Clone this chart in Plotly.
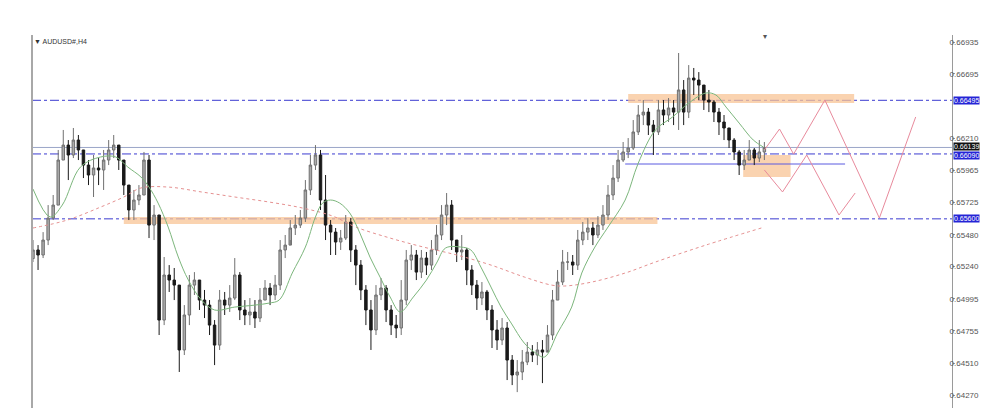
import plotly.graph_objects as go

# ---- candle data (H4 AUDUSD), index = bar number ----
close = [0.65365,0.65327,0.65440,0.65606,0.65704,0.66044,0.66157,0.66082,0.66195,0.66120,
         0.66006,0.65931,0.65984,0.65969,0.66044,0.66120,0.66157,0.66044,0.65855,0.65667,
         0.65742,0.65780,0.66044,0.65553,0.65629,0.64836,0.65176,0.65138,0.65100,0.64610,
         0.64874,0.65100,0.65138,0.64987,0.64949,0.64798,0.64647,0.64987,0.64949,0.65002,
         0.65176,0.64912,0.64874,0.64897,0.64851,0.64987,0.65078,0.65025,0.65100,0.65365,
         0.65402,0.65531,0.65553,0.65606,0.65818,0.66006,0.66082,0.65742,0.65553,0.65500,
         0.65425,0.65455,0.65576,0.65365,0.65251,0.65063,0.64912,0.64761,0.65025,0.65078,
         0.64912,0.64798,0.64776,0.64987,0.65289,0.65327,0.65198,0.65304,0.65251,0.65365,
         0.65478,0.65629,0.65704,0.65440,0.65350,0.65365,0.65214,0.65100,0.65002,0.65048,
         0.64912,0.64761,0.64685,0.64776,0.64534,0.64421,0.64444,0.64519,0.64594,0.64572,
         0.64610,0.64594,0.64723,0.64987,0.65123,0.65274,0.65274,0.65251,0.65440,0.65500,
         0.65531,0.65478,0.65553,0.65629,0.65780,0.65908,0.66044,0.66105,0.66135,0.66256,
         0.66384,0.66406,0.66308,0.66256,0.66422,0.66384,0.66437,0.66406,0.66573,0.66406,
         0.66663,0.66648,0.66610,0.66497,0.66482,0.66406,0.66331,0.66286,0.66195,0.66105,
         0.66006,0.66044,0.66120,0.66059,0.66105,0.66139]
high = [0.65440,0.65402,0.65500,0.65704,0.65780,0.66120,0.66271,0.66195,0.66286,0.66233,
        0.66120,0.66044,0.66082,0.66059,0.66120,0.66195,0.66233,0.66157,0.66044,0.65855,
        0.65818,0.65855,0.66105,0.66082,0.65704,0.65629,0.65312,0.65251,0.65229,0.65100,
        0.64949,0.65176,0.65198,0.65138,0.65063,0.64987,0.64836,0.65063,0.65048,0.65100,
        0.65304,0.65198,0.64987,0.65002,0.64987,0.65078,0.65138,0.65115,0.65176,0.65440,
        0.65478,0.65591,0.65629,0.65667,0.65893,0.66082,0.66157,0.66120,0.65931,0.65591,
        0.65531,0.65516,0.65629,0.65606,0.65402,0.65289,0.65100,0.64987,0.65100,0.65153,
        0.65100,0.64949,0.64874,0.65138,0.65365,0.65402,0.65365,0.65365,0.65350,0.65440,
        0.65553,0.65704,0.65795,0.65742,0.65440,0.65478,0.65380,0.65251,0.65138,0.65123,
        0.65063,0.64949,0.64836,0.64851,0.64821,0.64572,0.64534,0.64610,0.64670,0.64647,
        0.64670,0.64685,0.64798,0.65063,0.65214,0.65365,0.65350,0.65327,0.65516,0.65576,
        0.65606,0.65576,0.65621,0.65704,0.65855,0.66006,0.66120,0.66180,0.66210,0.66346,
        0.66459,0.66497,0.66437,0.66346,0.66497,0.66497,0.66512,0.66497,0.66852,0.66648,
        0.66761,0.66739,0.66708,0.66610,0.66573,0.66497,0.66437,0.66384,0.66271,0.66210,
        0.66120,0.66120,0.66195,0.66135,0.66195,0.66180]
low = [0.65274,0.65214,0.65304,0.65402,0.65591,0.65704,0.66044,0.65893,0.66059,0.66044,
       0.65908,0.65855,0.65765,0.65855,0.65818,0.66006,0.66059,0.65969,0.65780,0.65591,
       0.65591,0.65704,0.65780,0.65455,0.65440,0.64723,0.64798,0.65048,0.64987,0.64444,
       0.64572,0.64798,0.65025,0.64912,0.64851,0.64723,0.64496,0.64610,0.64874,0.64897,
       0.64987,0.64836,0.64798,0.64798,0.64776,0.64821,0.64987,0.64949,0.64987,0.65063,
       0.65304,0.65440,0.65478,0.65531,0.65576,0.65780,0.65969,0.65667,0.65440,0.65327,
       0.65327,0.65365,0.65440,0.65274,0.65100,0.64987,0.64798,0.64610,0.64723,0.64987,
       0.64821,0.64723,0.64700,0.64723,0.64949,0.65214,0.65138,0.65153,0.65176,0.65214,
       0.65327,0.65440,0.65553,0.65365,0.65274,0.65289,0.65100,0.65025,0.64912,0.64949,
       0.64836,0.64625,0.64610,0.64647,0.64383,0.64345,0.64292,0.64383,0.64496,0.64519,
       0.64496,0.64360,0.64610,0.64685,0.64987,0.65100,0.65214,0.65176,0.65214,0.65402,
       0.65440,0.65402,0.65455,0.65516,0.65591,0.65742,0.65878,0.66029,0.66059,0.66120,
       0.66233,0.66308,0.66233,0.66082,0.66233,0.66308,0.66331,0.66308,0.66271,0.66308,
       0.66361,0.66535,0.66497,0.66422,0.66406,0.66331,0.66233,0.66195,0.66135,0.66044,
       0.65931,0.65969,0.66044,0.66006,0.66029,0.66044]
first_open = 0.65300

# ---- moving averages (bar index, price) ----
ma_fast_x = [0,3.4,5.8,9.4,13.4,16.4,18.8,21.4,23,24.8,26.8,28.8,30.8,33.4,36,40,44,46.8,48.8,
             51.4,54,56,57.4,59,60.8,62.8,64.8,66.8,68.8,70.8,72.8,75.4,78,80,81.8,84.8,86.8,
             88.8,90.8,92.8,94.8,97.4,99.4,101.4,104,106.8,108.8,111.4,114,117.4,120,123.4,
             126.8,130,133.4,135.4,137.4,140,142.8,144.8]
ma_fast_y = [0.65825,0.65614,0.65704,0.65991,0.66067,0.66067,0.65991,0.65916,0.65840,0.65719,
             0.65538,0.65312,0.65138,0.64987,0.64912,0.64934,0.64949,0.64964,0.64987,0.65191,
             0.65387,0.65614,0.65719,0.65742,0.65719,0.65644,0.65493,0.65312,0.65161,0.65010,
             0.64897,0.65010,0.65138,0.65266,0.65380,0.65387,0.65365,0.65236,0.65085,0.64934,
             0.64813,0.64662,0.64594,0.64557,0.64738,0.64934,0.65191,0.65387,0.65538,0.65742,
             0.66021,0.66271,0.66369,0.66474,0.66550,0.66535,0.66444,0.66323,0.66195,0.66142]
ma_slow_x = [0,6.8,13.4,18,21.4,26.8,33.4,40,46.8,53.4,59.4,64,70.8,77.4,84,90.8,97.4,102.8,
             105.4,110.8,117.4,123.4,133.4,144.4]
ma_slow_y = [0.65531,0.65591,0.65689,0.65765,0.65833,0.65840,0.65803,0.65765,0.65727,0.65682,
             0.65621,0.65538,0.65455,0.65387,0.65327,0.65251,0.65161,0.65100,0.65093,0.65123,
             0.65191,0.65274,0.65402,0.65531]

# ---- drawn objects ----
level_lines = [0.66495, 0.66090, 0.65600]          # dash-dot horizontal levels
bid_price = 0.66139
short_line = [117.4, 161.0, 0.66014]               # x0, x1, price
zones = [[118.0, 162.8, 0.66474, 0.66542],
         [140.8, 150.2, 0.65916, 0.66082],
         [18.0, 123.8, 0.65561, 0.65614]]
proj1_x = [145, 148, 150.8, 157, 167.8, 175]
proj1_y = [0.66120, 0.66278, 0.66089, 0.66497, 0.65606, 0.66369]
proj2_x = [145, 148.6, 153.4, 159.8, 163]
proj2_y = [0.65969, 0.65803, 0.66082, 0.65629, 0.65795]

tick_vals = [0.66935, 0.66695, 0.66210, 0.65965, 0.65725, 0.65480, 0.65240,
             0.64995, 0.64755, 0.64510, 0.64270]
tick_text = ["%.5f" % v for v in tick_vals]

opens = [first_open] + close[:-1]
idx = list(range(len(close)))

fig = go.Figure()

for (x0, x1, y0, y1) in zones:
    fig.add_shape(type="rect", x0=x0, x1=x1, y0=y0, y1=y1, xref="x", yref="y",
                  fillcolor="rgba(248,196,150,0.75)", line_width=0, layer="below")

for lv in level_lines:
    fig.add_shape(type="line", x0=0, x1=1, xref="paper", y0=lv, y1=lv, yref="y",
                  line=dict(color="#3b3bd0", width=1, dash="dashdot"), layer="below")
fig.add_shape(type="line", x0=0, x1=1, xref="paper", y0=bid_price, y1=bid_price, yref="y",
              line=dict(color="#9aa6c8", width=1), layer="below")
fig.add_shape(type="line", x0=short_line[0], x1=short_line[1], xref="x",
              y0=short_line[2], y1=short_line[2], yref="y",
              line=dict(color="#5b5be0", width=1), layer="below")
fig.add_shape(type="line", x0=0, x1=0, xref="paper", y0=0, y1=1, yref="paper",
              line=dict(color="#a8a8a8", width=2))

fig.add_trace(go.Scatter(x=ma_slow_x, y=ma_slow_y, mode="lines", line_shape="spline",
                         line=dict(color="#e59090", width=1, dash="dot"), hoverinfo="skip"))
fig.add_trace(go.Scatter(x=ma_fast_x, y=ma_fast_y, mode="lines", line_shape="spline",
                         line=dict(color="#7cb67c", width=1), hoverinfo="skip"))

fig.add_trace(go.Candlestick(
    x=idx, open=opens, high=high, low=low, close=close,
    increasing=dict(line=dict(color="#707070", width=1), fillcolor="#ababab"),
    decreasing=dict(line=dict(color="#1a1a1a", width=1), fillcolor="#1a1a1a"),
    whiskerwidth=0))

fig.add_trace(go.Scatter(x=proj1_x, y=proj1_y, mode="lines",
                         line=dict(color="#e88a9c", width=1), hoverinfo="skip"))
fig.add_trace(go.Scatter(x=proj2_x, y=proj2_y, mode="lines",
                         line=dict(color="#e88a9c", width=1), hoverinfo="skip"))

# price labels on the right scale (value, colour, vertical nudge in px)
tags = [(0.66495, "#2424d6", 0), (bid_price, "#111111", 1), (0.66090, "#2424d6", -2),
        (0.65600, "#2424d6", 0)]
for val, col, nudge in tags:
    fig.add_annotation(x=1, xref="paper", y=val, yref="y", xanchor="left", yanchor="middle",
                       xshift=1, yshift=nudge, text="%.5f" % val, showarrow=False,
                       font=dict(size=7, color="white", family="Liberation Sans"),
                       bgcolor=col, borderpad=0)

fig.add_annotation(x=0, xref="paper", y=1, yref="paper", xanchor="left", yanchor="top",
                   xshift=0, yshift=-1, text="▼ AUDUSD#,H4", showarrow=False,
                   font=dict(size=7, color="#333", family="Liberation Sans"))
fig.add_annotation(x=0.797, xref="paper", y=1, yref="paper", xanchor="center", yanchor="middle",
                   text="▾", showarrow=False, font=dict(size=8, color="#555"))

# the page adds an 8px body margin, so the figure is sized to fit inside the window
fig.update_layout(
    width=992, height=400,
    margin=dict(l=24, r=48, t=27, b=0),
    paper_bgcolor="white", plot_bgcolor="white",
    showlegend=False,
    xaxis=dict(range=[-0.2, 182.2], showgrid=False, zeroline=False, showticklabels=False,
               showline=False, rangeslider=dict(visible=False), fixedrange=True),
    yaxis=dict(range=[0.64172, 0.66988], side="right", showgrid=False, zeroline=False,
               tickvals=tick_vals, ticktext=tick_text, ticks="outside", ticklen=2,
               tickcolor="#999", showline=True, linecolor="#9a9a9a", linewidth=1,
               ticklabelstandoff=-7,
               tickfont=dict(size=8, color="#555", family="Liberation Sans")),
)

fig.write_html("out.html")
